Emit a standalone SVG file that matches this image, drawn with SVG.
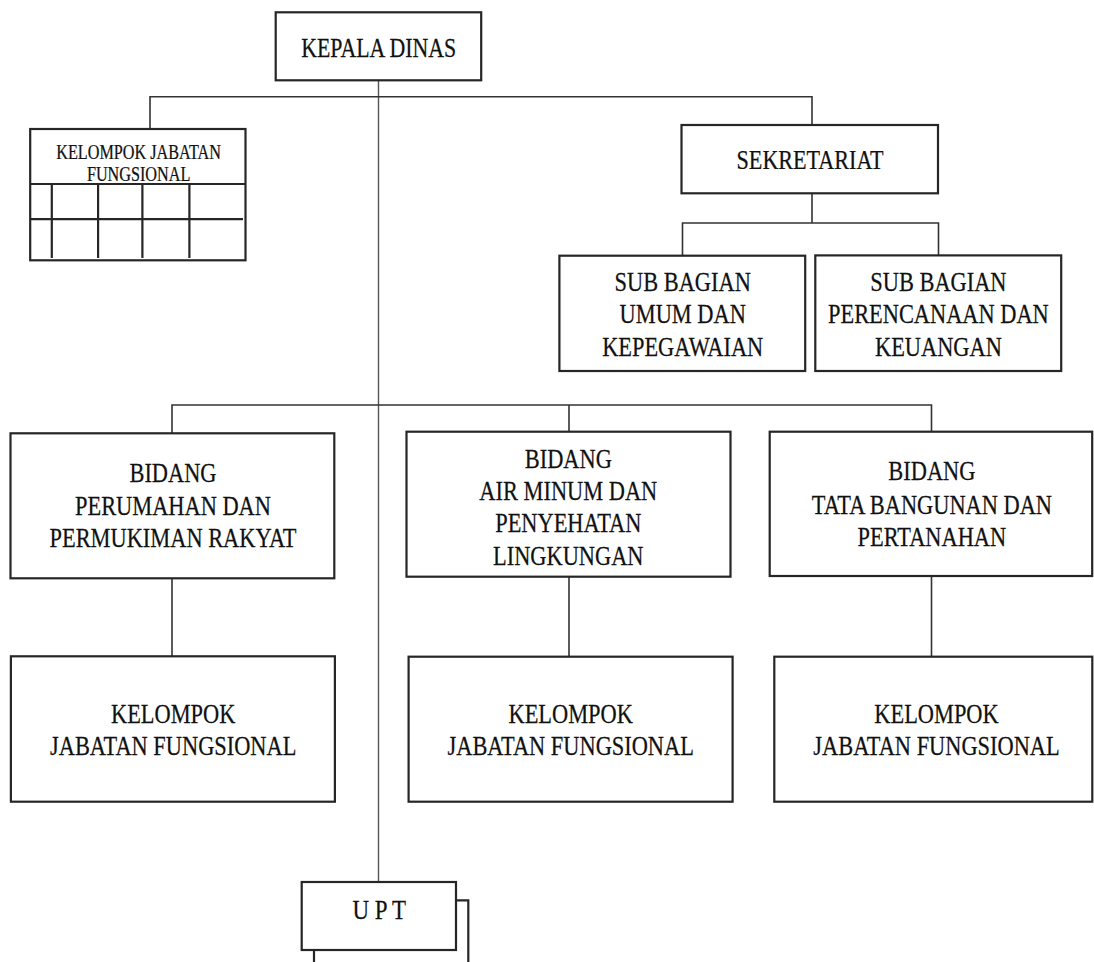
<svg xmlns="http://www.w3.org/2000/svg" width="1094" height="962" viewBox="0 0 1094 962">
<style>
.box{fill:#fff;stroke:#262626;stroke-width:2.2}
.grid{fill:none;stroke:#262626;stroke-width:2.2}
.ln{fill:none;stroke:#333;stroke-width:1.6}
.main{fill:none;stroke:#555;stroke-width:1.4}
.t{font-family:"Liberation Serif","Times New Roman",serif;font-size:28px;fill:#111;stroke:#111;stroke-width:0.25;text-anchor:middle}
.s{font-size:20.5px}
</style>
<rect width="1094" height="962" fill="#fff"/>
<g id="connectors">
<path class="main" d="M378.5,80 V882"/>
<path class="ln" d="M150,129 V96.7 H812 V125"/>
<path class="ln" d="M812,193.3 V223"/>
<path class="ln" d="M682.5,255.7 V223 H938.5 V255.5"/>
<path class="ln" d="M172,433.3 V405 H931.5 V431.7"/>
<path class="ln" d="M569,405 V431.7"/>
<path class="ln" d="M172,578.3 V656.3"/>
<path class="ln" d="M569,576.7 V656.7"/>
<path class="ln" d="M931.5,576 V656.7"/>
</g>
<g id="kepala-dinas">
<rect class="box" x="275.7" y="12.3" width="205.5" height="68"/>
<g transform="translate(378.7 0) scale(0.78 1)"><text class="t" x="0" y="57">KEPALA DINAS</text></g>
</g>
<g id="kelompok-jabatan-fungsional-top">
<rect class="box" x="30.2" y="129" width="215.3" height="131.3"/>
<path class="grid" d="M30.2,184 H245.5 M30.2,219.2 H243 M51.8,184 V258 M98.1,184 V258 M142.4,184 V258 M189.4,184 V258"/>
<g transform="translate(138.6 0) scale(0.79 1)">
<text class="t s" x="0" y="159">KELOMPOK JABATAN</text>
<text class="t s" x="0" y="181.5">FUNGSIONAL</text>
</g>
</g>
<g id="sekretariat">
<rect class="box" x="681.5" y="125" width="256.5" height="68.3"/>
<g transform="translate(810 0) scale(0.79 1)"><text class="t" x="0" y="169.5">SEKRETARIAT</text></g>
</g>
<g id="subbag-umum">
<rect class="box" x="559.4" y="255.7" width="245.8" height="115.3"/>
<g transform="translate(682.7 0) scale(0.8 1)">
<text class="t" x="0" y="291">SUB BAGIAN</text>
<text class="t" x="0" y="323.5">UMUM DAN</text>
<text class="t" x="0" y="356.5">KEPEGAWAIAN</text>
</g>
</g>
<g id="subbag-perencanaan">
<rect class="box" x="815.3" y="255.4" width="245.9" height="115.6"/>
<g transform="translate(938.4 0) scale(0.8 1)">
<text class="t" x="0" y="291">SUB BAGIAN</text>
<text class="t" x="0" y="323.5">PERENCANAAN DAN</text>
<text class="t" x="0" y="356.5">KEUANGAN</text>
</g>
</g>
<g id="bidang-perumahan">
<rect class="box" x="10.5" y="433.3" width="323.8" height="145"/>
<g transform="translate(173 0) scale(0.8 1)">
<text class="t" x="0" y="481.7">BIDANG</text>
<text class="t" x="0" y="514.7">PERUMAHAN DAN</text>
<text class="t" x="0" y="547.5">PERMUKIMAN RAKYAT</text>
</g>
</g>
<g id="bidang-air-minum">
<rect class="box" x="406.5" y="431.7" width="324" height="145"/>
<g transform="translate(568.3 0) scale(0.8 1)">
<text class="t" x="0" y="467.7">BIDANG</text>
<text class="t" x="0" y="500">AIR MINUM DAN</text>
<text class="t" x="0" y="532">PENYEHATAN</text>
<text class="t" x="0" y="565">LINGKUNGAN</text>
</g>
</g>
<g id="bidang-tata-bangunan">
<rect class="box" x="769.7" y="431.7" width="322.5" height="144.3"/>
<g transform="translate(931.9 0) scale(0.8 1)">
<text class="t" x="0" y="480.5">BIDANG</text>
<text class="t" x="0" y="514">TATA BANGUNAN DAN</text>
<text class="t" x="0" y="546.5">PERTANAHAN</text>
</g>
</g>
<g id="kelompok-perumahan">
<rect class="box" x="10.9" y="656.3" width="324" height="145.4"/>
<g transform="translate(173.2 0) scale(0.8 1)">
<text class="t" x="0" y="723">KELOMPOK</text>
<text class="t" x="0" y="755.5">JABATAN FUNGSIONAL</text>
</g>
</g>
<g id="kelompok-air-minum">
<rect class="box" x="408.6" y="656.7" width="324" height="145"/>
<g transform="translate(570.7 0) scale(0.8 1)">
<text class="t" x="0" y="723">KELOMPOK</text>
<text class="t" x="0" y="755.5">JABATAN FUNGSIONAL</text>
</g>
</g>
<g id="kelompok-tata-bangunan">
<rect class="box" x="774.3" y="656.7" width="318" height="145"/>
<g transform="translate(936.5 0) scale(0.8 1)">
<text class="t" x="0" y="723">KELOMPOK</text>
<text class="t" x="0" y="755.5">JABATAN FUNGSIONAL</text>
</g>
</g>
<g id="upt">
<path class="grid" d="M456,900.3 H468.3 V966 M314,950 V966"/>
<rect class="box" x="301.7" y="882" width="154.3" height="68"/>
<g transform="translate(379.3 0) scale(0.82 1)"><text class="t" x="0" y="919.5">U P T</text></g>
</g>
</svg>
